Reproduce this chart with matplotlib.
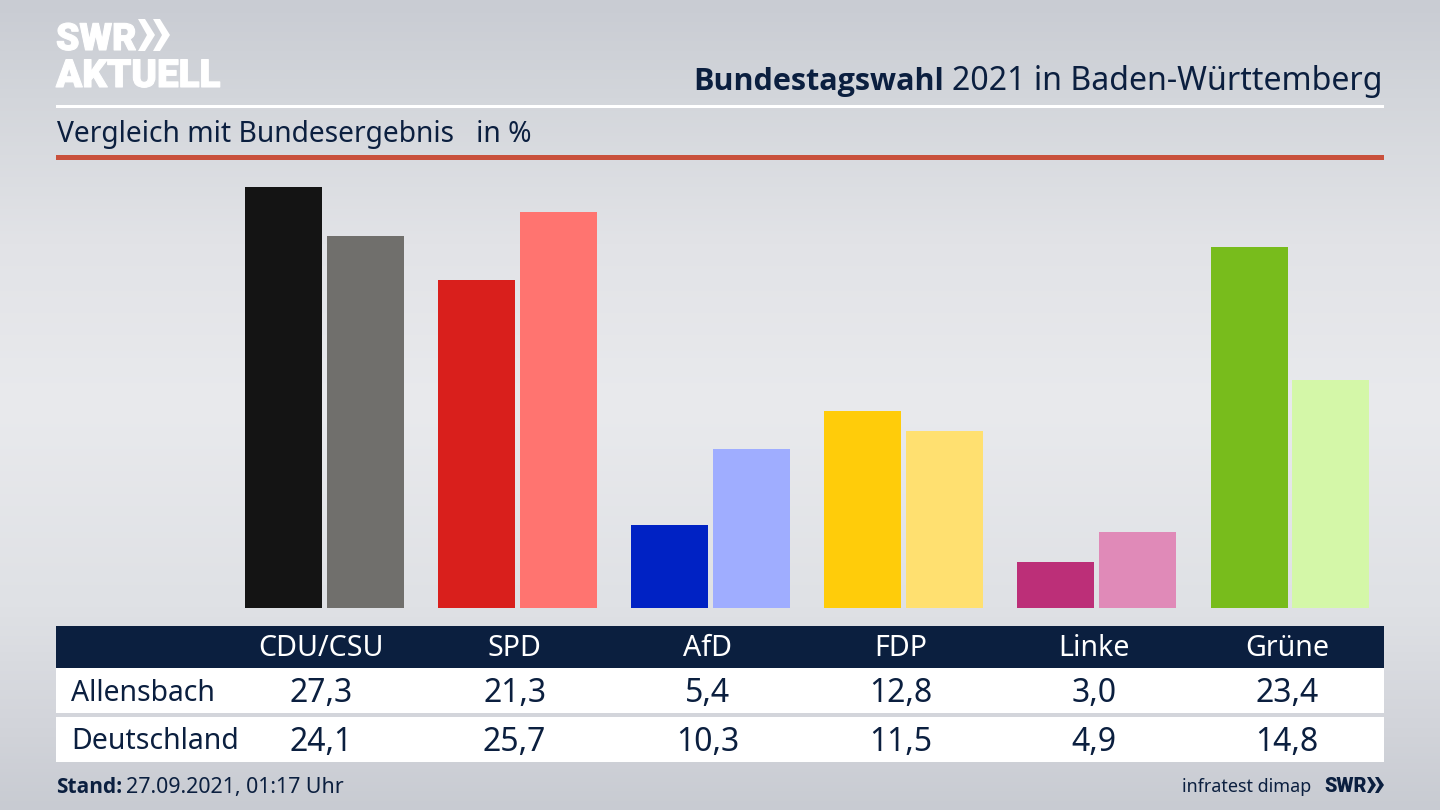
import numpy as np
import matplotlib
matplotlib.use("Agg")
import matplotlib.pyplot as plt
import matplotlib.patheffects as pe
from matplotlib.colors import LinearSegmentedColormap
from matplotlib.patches import Rectangle, Polygon
from matplotlib.transforms import blended_transform_factory

parties = ["CDU/CSU", "SPD", "AfD", "FDP", "Linke", "Grüne"]
allensbach = [27.3, 21.3, 5.4, 12.8, 3.0, 23.4]
deutschland = [24.1, 25.7, 10.3, 11.5, 4.9, 14.8]
colors_a = ["#141414", "#d91f1c", "#0022c4", "#ffcc0a", "#bc2f78", "#78bc1c"]
colors_d = ["#706f6c", "#ff7470", "#9fadff", "#ffe070", "#e08ab8", "#d4f7a8"]
row_names = ["Allensbach", "Deutschland"]

NAVY = "#0b1f3f"
plt.rcParams["font.family"] = ["Noto Sans", "DejaVu Sans"]
BOLD = ["Open Sans", "DejaVu Sans"]
heavy_w = [pe.withStroke(linewidth=0.8, foreground="white")]

fig = plt.figure(figsize=(14.4, 8.1), dpi=100)

# page coordinates in pixels
ov = fig.add_axes([0, 0, 1, 1])
ov.set_xlim(0, 1440)
ov.set_ylim(810, 0)
ov.axis("off")

cmap = LinearSegmentedColormap.from_list(
    "bg", [(0, "#c9ccd3"), (0.12, "#d3d6db"), (0.3, "#e2e3e7"), (0.5, "#e9eaed"),
           (0.75, "#dfe1e5"), (0.9, "#d2d4da"), (1, "#c8cbd2")])
ov.imshow(np.linspace(0, 1, 256).reshape(-1, 1), cmap=cmap, aspect="auto",
          extent=(0, 1440, 810, 0), zorder=0)

# rules
ov.add_patch(Rectangle((56, 105), 1328, 2.5, fc="white", ec="none", zorder=1))
ov.add_patch(Rectangle((56, 155), 1328, 5, fc="#c9503c", ec="none", zorder=1))

# table
ov.add_patch(Rectangle((56, 626), 1328, 42, fc=NAVY, ec="none", zorder=1))
ov.add_patch(Rectangle((56, 668), 1328, 45, fc="white", ec="none", zorder=1))
ov.add_patch(Rectangle((56, 717), 1328, 45, fc="white", ec="none", zorder=1))

# logo
ov.text(56, 50, "SWR", color="white", fontsize=27, fontweight="black", family="Roboto",
        va="baseline", ha="left", zorder=2, path_effects=heavy_w)
ov.text(56, 87, "AKTUELL", color="white", fontsize=27.8, fontweight="black", family="Roboto",
        va="baseline", ha="left", zorder=2, path_effects=heavy_w)
for x0 in (138, 153):
    ov.add_patch(Polygon([(x0, 19), (x0 + 7, 19), (x0 + 17, 35), (x0 + 7, 51), (x0, 51), (x0 + 9, 35)],
                         fc="white", ec="none", zorder=2))

# titles
ov.text(944, 90, "Bundestagswahl", color=NAVY, fontsize=22, fontweight="bold", family=BOLD,
        ha="right", va="baseline", zorder=2)
ov.text(1383, 90, "2021 in Baden-Württemberg", color=NAVY, fontsize=23.1,
        ha="right", va="baseline", zorder=2)
ov.text(57, 142, "Vergleich mit Bundesergebnis   in %", color=NAVY, fontsize=20.3,
        ha="left", va="baseline", zorder=2)

# bars
px_per_unit = 15.42
top = 28
ax = fig.add_axes([56 / 1440, (810 - 608) / 810, 1328 / 1440, top * px_per_unit / 810])
ax.patch.set_alpha(0)
ax.set_xlim((56 - 324.5) / 193.1, (1384 - 324.5) / 193.1)
ax.set_ylim(0, top)
ax.axis("off")
x = np.arange(len(parties))
w = 77 / 193.1
off = 41 / 193.1
ax.bar(x - off, allensbach, width=w, color=colors_a)
ax.bar(x + off, deutschland, width=w, color=colors_d)

# table text
tr = blended_transform_factory(ax.transData, ov.transData)
shift = -3 / 193.1
for i, p in enumerate(parties):
    ov.text(i + shift, 656, p, color="white", fontsize=20.6, ha="center", va="baseline",
            transform=tr, zorder=3)
    ov.text(i + shift, 702, f"{allensbach[i]:.1f}".replace(".", ","), color=NAVY, fontsize=23,
            ha="center", va="baseline", transform=tr, zorder=3)
    ov.text(i + shift, 751, f"{deutschland[i]:.1f}".replace(".", ","), color=NAVY, fontsize=23,
            ha="center", va="baseline", transform=tr, zorder=3)
ov.text(71, 701, row_names[0], color=NAVY, fontsize=20.4, ha="left", va="baseline", zorder=3)
ov.text(71, 749, row_names[1], color=NAVY, fontsize=20.5, ha="left", va="baseline", zorder=3)

# footer
ov.text(56, 793, "Stand:", color=NAVY, fontsize=15, fontweight="bold", family=BOLD,
        ha="left", va="baseline", zorder=3)
ov.text(126, 793, "27.09.2021, 01:17 Uhr", color=NAVY, fontsize=15.4, ha="left", va="baseline", zorder=3)
ov.text(1311, 792, "infratest dimap", color=NAVY, fontsize=12.9, ha="right", va="baseline", zorder=3)
ov.text(1324, 792, "SWR", color=NAVY, fontsize=14.2, fontweight="black", family="Roboto",
        ha="left", va="baseline", zorder=3)
for x0 in (1367, 1375):
    ov.add_patch(Polygon([(x0, 777), (x0 + 3.5, 777), (x0 + 9, 785), (x0 + 3.5, 793), (x0, 793), (x0 + 4.5, 785)],
                         fc=NAVY, ec="none", zorder=3))

fig.savefig("out.png", dpi=100)
